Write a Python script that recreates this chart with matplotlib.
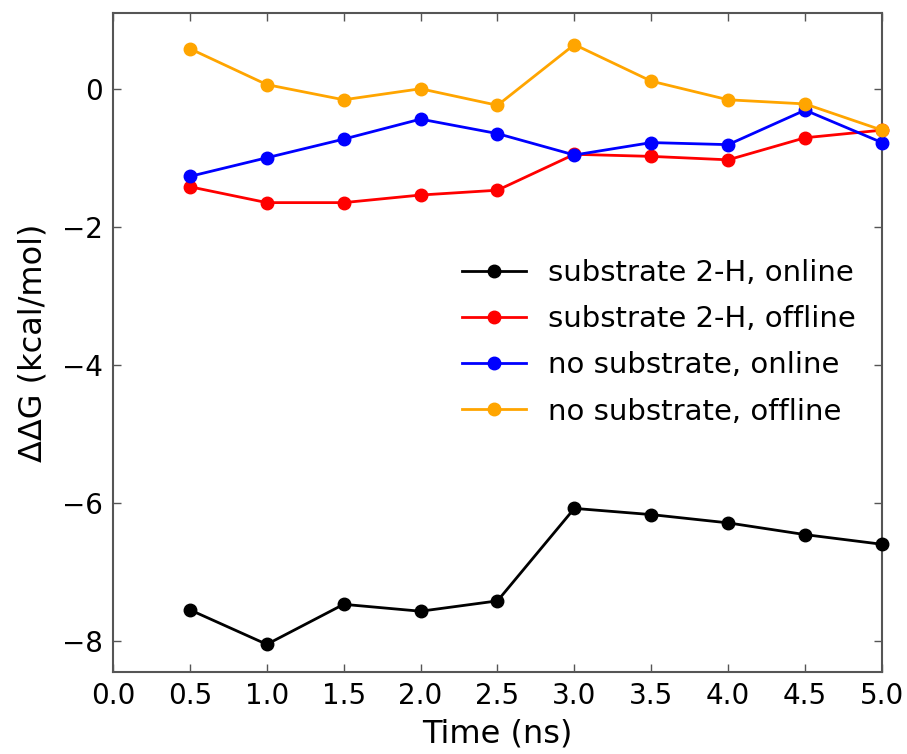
import matplotlib
matplotlib.use("Agg")
import matplotlib.pyplot as plt

time_ns = [0.5, 1.0, 1.5, 2.0, 2.5, 3.0, 3.5, 4.0, 4.5, 5.0]
sub_online = [-7.55, -8.05, -7.47, -7.57, -7.42, -6.08, -6.17, -6.29, -6.46, -6.60]
sub_offline = [-1.42, -1.65, -1.65, -1.54, -1.47, -0.95, -0.98, -1.03, -0.71, -0.60]
nosub_online = [-1.27, -1.00, -0.73, -0.44, -0.65, -0.96, -0.78, -0.81, -0.31, -0.78]
nosub_offline = [0.58, 0.06, -0.16, 0.0, -0.24, 0.64, 0.11, -0.16, -0.22, -0.60]
labels = ["substrate 2-H, online", "substrate 2-H, offline",
          "no substrate, online", "no substrate, offline"]
colors = ["black", "red", "blue", "orange"]
xticks = [0.0, 0.5, 1.0, 1.5, 2.0, 2.5, 3.0, 3.5, 4.0, 4.5, 5.0]
yticks = [0, -2, -4, -6, -8]

fig = plt.figure(figsize=(9.07, 7.54), dpi=100)
ax = fig.add_axes([0.1246, 0.1088, 0.8478, 0.8742])

for ys, lab, c in zip([sub_online, sub_offline, nosub_online, nosub_offline], labels, colors):
    ax.plot(time_ns, ys, "-o", color=c, label=lab, lw=2, ms=9, clip_on=False, zorder=3)

ax.set_xlim(0, 5)
ax.set_ylim(-8.45, 1.1)
ax.set_xticks(xticks)
ax.set_xticklabels([f"{v:.1f}" for v in xticks])
ax.set_yticks(yticks)
ax.tick_params(direction="in", top=True, right=True, labelsize=20, length=6, width=1,
               color="#555555", pad=7)
for s in ax.spines.values():
    s.set_color("#555555")
    s.set_linewidth(1.5)
ax.set_xlabel("Time (ns)", fontsize=23, labelpad=6)
ax.set_ylabel("ΔΔG (kcal/mol)", fontsize=23, labelpad=10)
ax.legend(loc="center right", bbox_to_anchor=(1.0, 0.50), frameon=False, fontsize=21,
          handlelength=2.2, labelspacing=0.62, handletextpad=0.75)
fig.savefig("out.png", dpi=100)
